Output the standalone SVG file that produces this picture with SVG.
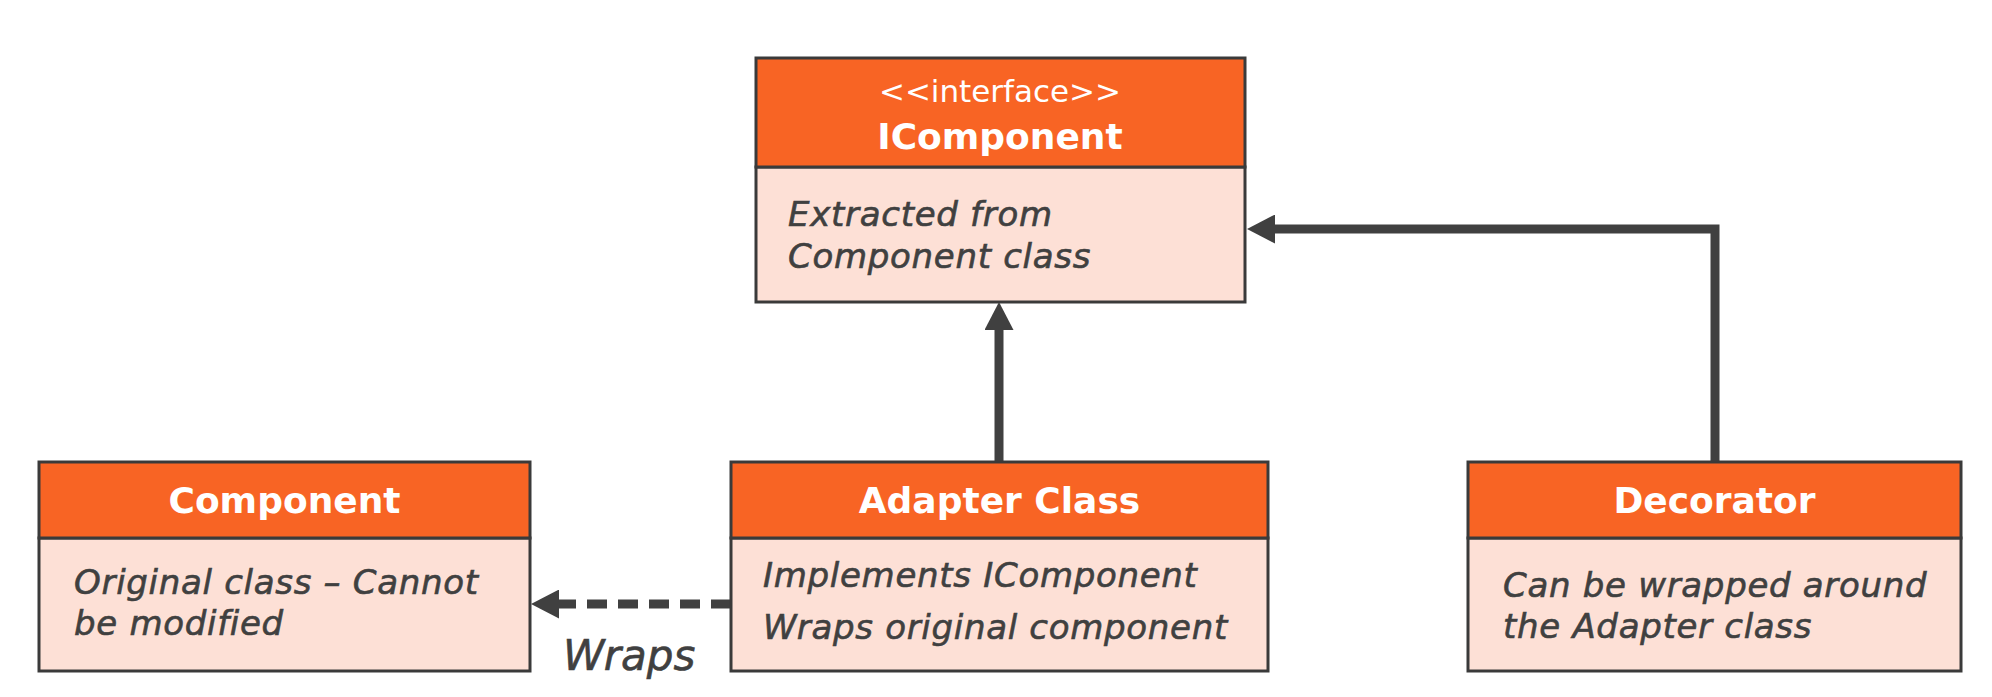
<svg xmlns="http://www.w3.org/2000/svg" width="1992" height="697" viewBox="0 0 1992 697">
  <style>
    .hdr { fill: #F86424; stroke: #3a3a3a; stroke-width: 3; }
    .body { fill: #FDE0D6; stroke: #3a3a3a; stroke-width: 3; }
    .title { font-family: "DejaVu Sans", sans-serif; font-weight: bold; font-size: 36px; fill: #ffffff; text-anchor: middle; }
    .stereo { font-family: "DejaVu Sans", sans-serif; font-size: 31px; fill: #ffffff; text-anchor: middle; }
    .txt { font-family: "DejaVu Sans", sans-serif; font-style: italic; font-size: 34px; letter-spacing: 0.7px; fill: #404040; stroke: #404040; stroke-width: 0.6; }
    .lbl { font-family: "DejaVu Sans", sans-serif; font-style: italic; font-size: 42px; fill: #404040; stroke: #404040; stroke-width: 0.6; }
    .conn { fill: none; stroke: #404040; stroke-width: 9; }
    .dash { stroke-dasharray: 20 11; }
  </style>
  <defs>
    <marker id="ah" markerUnits="userSpaceOnUse" markerWidth="28" markerHeight="29" viewBox="0 0 28 29" refX="0" refY="14.5" orient="auto">
      <path d="M0,0 L28,14.5 L0,29 Z" fill="#404040"/>
    </marker>
  </defs>
  <rect width="1992" height="697" fill="#ffffff"/>

  <g id="connectors">
    <path class="conn" d="M999,462 V330" marker-end="url(#ah)"/>
    <path class="conn" d="M1715,462 V229 H1275" marker-end="url(#ah)"/>
    <path class="conn dash" d="M731,604 H559" marker-end="url(#ah)"/>
    <text class="lbl" x="563" y="670">Wraps</text>
  </g>

  <g id="icomponent">
    <rect class="body" x="756" y="167" width="489" height="135"/>
    <rect class="hdr" x="756" y="58" width="489" height="109"/>
    <text class="stereo" x="1000" y="102">&lt;&lt;interface&gt;&gt;</text>
    <text class="title" x="1000" y="149">IComponent</text>
    <text class="txt" x="788" y="226">Extracted from</text>
    <text class="txt" x="788" y="268">Component class</text>
  </g>

  <g id="component">
    <rect class="body" x="39" y="538" width="491" height="133"/>
    <rect class="hdr" x="39" y="462" width="491" height="76"/>
    <text class="title" x="284.5" y="513">Component</text>
    <text class="txt" x="74" y="594">Original class – Cannot</text>
    <text class="txt" x="74" y="635">be modified</text>
  </g>

  <g id="adapter">
    <rect class="body" x="731" y="538" width="537" height="133"/>
    <rect class="hdr" x="731" y="462" width="537" height="76"/>
    <text class="title" x="999.5" y="513">Adapter Class</text>
    <text class="txt" x="763" y="587">Implements IComponent</text>
    <text class="txt" x="763" y="639">Wraps original component</text>
  </g>

  <g id="decorator">
    <rect class="body" x="1468" y="538" width="493" height="133"/>
    <rect class="hdr" x="1468" y="462" width="493" height="76"/>
    <text class="title" x="1714.5" y="513">Decorator</text>
    <text class="txt" x="1503" y="597">Can be wrapped around</text>
    <text class="txt" x="1503" y="638">the Adapter class</text>
  </g>
</svg>
